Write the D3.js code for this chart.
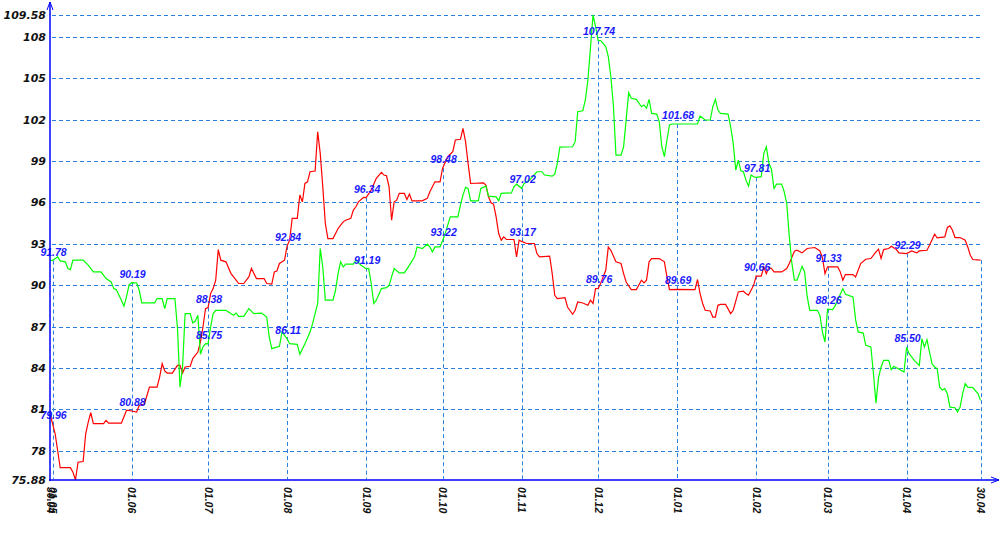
<!DOCTYPE html>
<html><head><meta charset="utf-8">
<script src="https://cdn.jsdelivr.net/npm/d3@7"></script>
<style>body{margin:0;background:#fff}svg{display:block}</style>
</head><body><svg id="c" width="1000" height="550"></svg>
<script>
// ---------- DATA ----------
const red = [
["30.04.14",80.68],["01.05.14",79.96],["02.05.14",79.25],["03.05.14",78.02],["04.05.14",76.77],["08.05.14",76.77],["09.05.14",76.45],["10.05.14",75.88],["11.05.14",77.17],["13.05.14",77.22],["14.05.14",79.23],["15.05.14",80.07],["16.05.14",80.76],["17.05.14",79.96],["21.05.14",79.96],["22.05.14",80.2],["23.05.14",80.0],["28.05.14",80.0],["30.05.14",80.92],["31.05.14",80.92],
["01.06.14",80.88],["03.06.14",80.8],["04.06.14",81.29],["06.06.14",81.36],["08.06.14",82.61],["11.06.14",82.61],["12.06.14",83.34],["13.06.14",84.31],["14.06.14",83.78],["15.06.14",83.63],["17.06.14",83.63],["19.06.14",84.19],["20.06.14",84.19],["21.06.14",83.63],["22.06.14",84.07],["24.06.14",84.12],["25.06.14",84.68],["27.06.14",85.15],["28.06.14",85.88],["29.06.14",86.97],["30.06.14",88.30],
["01.07.14",88.38],["02.07.14",89.39],["03.07.14",89.75],["04.07.14",90.36],["05.07.14",92.58],["06.07.14",91.81],["08.07.14",91.69],["10.07.14",90.84],["11.07.14",90.6],["12.07.14",90.36],["13.07.14",90.12],["15.07.14",90.12],["17.07.14",90.6],["18.07.14",91.21],["20.07.14",90.48],["23.07.14",90.48],["24.07.14",90.12],["26.07.14",90.07],["27.07.14",90.96],["28.07.14",91.03],["29.07.14",91.57],["31.07.14",91.81],
["01.08.14",92.84],["02.08.14",93.26],["03.08.14",94.84],["05.08.14",94.84],["06.08.14",96.53],["07.08.14",96.04],["08.08.14",97.37],["09.08.14",97.49],["10.08.14",98.22],["12.08.14",98.27],["13.08.14",101.12],["14.08.14",99.55],["15.08.14",97.13],["16.08.14",94.47],["17.08.14",93.38],["19.08.14",93.38],["21.08.14",94.11],["22.08.14",94.35],["23.08.14",94.59],["24.08.14",94.71],["26.08.14",94.84],["27.08.14",95.44],["28.08.14",95.68],["29.08.14",96.04],["31.08.14",96.36],
["01.09.14",96.34],["03.09.14",96.89],["05.09.14",97.74],["07.09.14",98.17],["08.09.14",97.98],["09.09.14",97.93],["10.09.14",97.13],["11.09.14",94.71],["12.09.14",96.04],["13.09.14",96.16],["14.09.14",96.65],["16.09.14",96.65],["17.09.14",96.21],["18.09.14",96.6],["19.09.14",96.11],["23.09.14",96.11],["25.09.14",96.29],["26.09.14",96.77],["28.09.14",97.49],["30.09.14",97.49],
["01.10.14",98.48],["03.10.14",99.31],["05.10.14",99.67],["06.10.14",100.52],["08.10.14",100.57],["09.10.14",101.37],["10.10.14",100.4],["11.10.14",98.83],["12.10.14",97.37],["17.10.14",97.42],["18.10.14",97.25],["19.10.14",96.4],["20.10.14",95.97],["21.10.14",95.87],["22.10.14",94.95],["23.10.14",93.74],["24.10.14",93.26],["25.10.14",93.5],["26.10.14",93.31],["29.10.14",93.31],["30.10.14",92.05],["31.10.14",93.26],
["01.11.14",93.17],["03.11.14",93.02],["06.11.14",93.02],["07.11.14",92.29],["08.11.14",92.05],["12.11.14",92.1],["13.11.14",90.84],["14.11.14",89.27],["15.11.14",89.03],["18.11.14",89.1],["19.11.14",88.42],["21.11.14",87.89],["22.11.14",88.18],["23.11.14",88.78],["25.11.14",88.71],["27.11.14",88.54],["28.11.14",88.91],["29.11.14",88.67],["30.11.14",89.75],
["01.12.14",89.76],["02.12.14",90.12],["04.12.14",91.08],["05.12.14",92.77],["06.12.14",92.53],["08.12.14",91.69],["10.12.14",91.57],["11.12.14",90.84],["12.12.14",90.23],["14.12.14",89.68],["16.12.14",89.68],["18.12.14",90.36],["19.12.14",90.16],["20.12.14",90.36],["21.12.14",91.69],["22.12.14",91.93],["25.12.14",91.93],["27.12.14",91.69],["28.12.14",90.6],["29.12.14",89.68],
["01.01.15",89.69],["08.01.15",89.68],["09.01.15",90.41],["10.01.15",89.39],["11.01.15",88.67],["12.01.15",88.18],["14.01.15",88.13],["15.01.15",87.69],["16.01.15",87.69],["17.01.15",88.54],["18.01.15",88.61],["20.01.15",88.61],["22.01.15",87.94],["23.01.15",88.18],["25.01.15",89.51],["27.01.15",89.56],["28.01.15",89.39],["29.01.15",89.27],["31.01.15",89.99],
["01.02.15",90.66],["03.02.15",90.65],["04.02.15",91.32],["05.02.15",90.84],["06.02.15",91.28],["07.02.15",91.21],["08.02.15",90.96],["11.02.15",90.96],["13.02.15",91.21],["14.02.15",91.57],["16.02.15",92.46],["17.02.15",92.53],["19.02.15",92.34],["21.02.15",92.66],["24.02.15",92.73],["26.02.15",92.48],["27.02.15",92.0],["28.02.15",90.84],
["01.03.15",91.33],["05.03.15",91.32],["06.03.15",90.96],["07.03.15",90.36],["08.03.15",90.77],["11.03.15",90.77],["12.03.15",90.6],["14.03.15",91.57],["16.03.15",91.88],["18.03.15",91.93],["20.03.15",92.41],["21.03.15",92.61],["22.03.15",91.93],["23.03.15",92.58],["25.03.15",92.66],["26.03.15",92.82],["28.03.15",92.58],["29.03.15",92.34],
["01.04.15",92.29],["03.04.15",92.48],["05.04.15",92.34],["06.04.15",92.48],["09.04.15",92.53],["10.04.15",92.89],["12.04.15",93.69],["13.04.15",93.43],["16.04.15",93.5],["17.04.15",94.18],["18.04.15",94.3],["19.04.15",93.98],["20.04.15",93.45],["22.04.15",93.45],["24.04.15",93.26],["25.04.15",92.77],["26.04.15",92.17],["27.04.15",91.86],["30.04.15",91.81]
];
const green = [
["30.04.14",91.81],["01.05.14",91.78],["03.05.14",92.05],["04.05.14",91.76],["06.05.14",91.69],["07.05.14",91.21],["08.05.14",91.13],["09.05.14",91.81],["13.05.14",91.81],["15.05.14",91.45],["17.05.14",90.96],["20.05.14",90.96],["22.05.14",90.48],["24.05.14",90.23],["25.05.14",89.75],["26.05.14",89.68],["28.05.14",88.91],["29.05.14",88.47],["30.05.14",89.15],["31.05.14",90.0],
["01.06.14",90.19],["03.06.14",90.16],["04.06.14",89.63],["05.06.14",88.71],["10.06.14",88.71],["11.06.14",89.03],["13.06.14",89.03],["14.06.14",88.3],["15.06.14",89.03],["18.06.14",89.03],["19.06.14",86.9],["20.06.14",82.61],["21.06.14",84.07],["22.06.14",87.94],["24.06.14",87.94],["25.06.14",87.26],["26.06.14",87.4],["27.06.14",87.82],["28.06.14",84.99],["29.06.14",85.52],["30.06.14",85.76],
["01.07.14",85.75],["02.07.14",86.97],["03.07.14",87.94],["04.07.14",88.18],["08.07.14",88.18],["11.07.14",87.82],["12.07.14",87.98],["13.07.14",87.74],["15.07.14",87.74],["17.07.14",88.3],["19.07.14",87.94],["22.07.14",87.98],["24.07.14",87.69],["25.07.14",86.24],["26.07.14",85.4],["29.07.14",85.57],["30.07.14",86.61],
["01.08.14",86.11],["02.08.14",85.76],["05.08.14",85.71],["06.08.14",84.99],["08.08.14",85.76],["10.08.14",86.61],["11.08.14",87.21],["13.08.14",88.67],["14.08.14",92.66],["15.08.14",91.32],["16.08.14",88.91],["19.08.14",88.91],["20.08.14",89.63],["21.08.14",90.84],["22.08.14",91.69],["23.08.14",91.32],["24.08.14",91.52],["27.08.14",91.52],["28.08.14",91.81],["30.08.14",91.45],
["01.09.14",91.19],["02.09.14",91.21],["03.09.14",90.12],["04.09.14",88.67],["05.09.14",88.91],["07.09.14",89.75],["09.09.14",89.82],["10.09.14",89.99],["11.09.14",90.6],["12.09.14",91.21],["14.09.14",90.89],["16.09.14",90.89],["18.09.14",91.45],["20.09.14",92.05],["21.09.14",92.77],["23.09.14",92.65],["25.09.14",92.97],["26.09.14",92.77],["27.09.14",92.41],["28.09.14",92.77],["30.09.14",92.77],
["01.10.14",93.22],["02.10.14",93.74],["04.10.14",94.95],["07.10.14",94.95],["08.10.14",95.8],["09.10.14",96.53],["10.10.14",97.09],["11.10.14",97.01],["12.10.14",96.11],["15.10.14",96.11],["16.10.14",97.01],["18.10.14",97.18],["19.10.14",96.45],["22.10.14",96.4],["23.10.14",96.11],["24.10.14",96.65],["28.10.14",96.69],["29.10.14",97.13],["30.10.14",97.32],
["01.11.14",97.02],["02.11.14",97.37],["04.11.14",97.6],["07.11.14",98.22],["09.11.14",98.22],["10.11.14",97.98],["13.11.14",97.9],["14.11.14",98.05],["15.11.14",98.83],["16.11.14",100.0],["21.11.14",100.03],["22.11.14",100.4],["23.11.14",102.57],["25.11.14",102.64],["26.11.14",103.42],["27.11.14",104.87],["28.11.14",107.2],["29.11.14",109.58],["30.11.14",108.74],
["01.12.14",107.74],["02.12.14",107.72],["04.12.14",107.29],["05.12.14",106.56],["06.12.14",105.11],["07.12.14",103.0],["08.12.14",99.43],["10.12.14",99.43],["11.12.14",100.03],["12.12.14",102.0],["13.12.14",103.95],["14.12.14",103.54],["16.12.14",103.47],["18.12.14",102.93],["19.12.14",103.06],["20.12.14",102.82],["21.12.14",103.47],["22.12.14",102.45],["24.12.14",102.4],["25.12.14",101.84],["26.12.14",100.03],["27.12.14",99.31],["28.12.14",100.52],["29.12.14",101.61],["30.12.14",101.68],
["01.01.15",101.68],["09.01.15",101.68],["10.01.15",102.26],["12.01.15",101.97],["14.01.15",101.97],["15.01.15",102.93],["16.01.15",103.47],["17.01.15",102.69],["18.01.15",102.45],["21.01.15",102.4],["22.01.15",101.48],["23.01.15",100.28],["24.01.15",98.34],["25.01.15",99.07],["26.01.15",98.29],["27.01.15",98.22],["28.01.15",97.61],["29.01.15",97.18],["30.01.15",97.98],["31.01.15",97.86],
["01.02.15",97.81],["03.02.15",97.86],["04.02.15",99.55],["05.02.15",100.03],["06.02.15",98.83],["07.02.15",98.4],["08.02.15",97.01],["09.02.15",97.32],["11.02.15",97.32],["12.02.15",96.77],["13.02.15",95.92],["14.02.15",93.5],["15.02.15",91.6],["16.02.15",90.36],["17.02.15",90.36],["18.02.15",90.84],["19.02.15",91.37],["20.02.15",90.96],["21.02.15",89.2],["22.02.15",88.18],["25.02.15",88.18],["26.02.15",87.82],["27.02.15",86.6],["28.02.15",85.88],
["01.03.15",88.26],["03.03.15",88.23],["04.03.15",88.5],["05.03.15",88.91],["06.03.15",89.34],["07.03.15",89.75],["08.03.15",89.34],["11.03.15",89.15],["12.03.15",87.5],["13.03.15",86.61],["15.03.15",86.53],["16.03.15",85.64],["18.03.15",85.52],["19.03.15",83.6],["20.03.15",81.45],["21.03.15",83.3],["22.03.15",84.07],["23.03.15",84.55],["25.03.15",84.55],["26.03.15",83.88],["27.03.15",84.12],["28.03.15",84.02],["31.03.15",83.7],
["01.04.15",85.5],["02.04.15",85.04],["03.04.15",84.8],["04.04.15",84.55],["06.04.15",84.19],["07.04.15",86.12],["08.04.15",85.52],["09.04.15",86.05],["10.04.15",85.15],["11.04.15",84.3],["12.04.15",84.07],["13.04.15",83.95],["14.04.15",82.61],["15.04.15",82.4],["16.04.15",82.5],["17.04.15",82.14],["18.04.15",81.16],["20.04.15",81.12],["21.04.15",80.8],["22.04.15",81.16],["23.04.15",82.14],["24.04.15",82.86],["25.04.15",82.61],["27.04.15",82.57],["29.04.15",82.14],["30.04.15",81.65]
];
const xTickDates = ["30.04.14","01.05.14","01.06.14","01.07.14","01.08.14","01.09.14","01.10.14","01.11.14","01.12.14","01.01.15","01.02.15","01.03.15","01.04.15","30.04.15"];
const labelDates = ["01.05.14","01.06.14","01.07.14","01.08.14","01.09.14","01.10.14","01.11.14","01.12.14","01.01.15","01.02.15","01.03.15","01.04.15"];
const redLabels   = [79.96, 80.88, 88.38, 92.84, 96.34, 98.48, 93.17, 89.76, 89.69, 90.66, 91.33, 92.29];
const greenLabels = [91.78, 90.19, 85.75, 86.11, 91.19, 93.22, 97.02, 107.74, 101.68, 97.81, 88.26, 85.50];
const yTicks = [75.88, 78, 81, 84, 87, 90, 93, 96, 99, 102, 105, 108, 109.58];
const yTickLabels = ["75.88","78","81","84","87","90","93","96","99","102","105","108","109.58"];

// ---------- CHART ----------
const parse = d3.timeParse("%d.%m.%y");
const fmt = d3.timeFormat("%d.%m");
const svg = d3.select("#c");
const x = d3.scaleTime().domain([parse(xTickDates[0]), parse(xTickDates[xTickDates.length-1])]).range([50, 980.5]);
const y = d3.scaleLinear().domain([yTicks[0], yTicks[yTicks.length-1]]).range([480, 15]);
const gridColor = "#2c7fdc";
const axisColor = "#0000ff";

// horizontal grid
svg.append("g").selectAll("line").data(yTicks.slice(1)).join("line")
  .attr("x1", 52).attr("x2", 980.5)
  .attr("y1", d => Math.round(y(d)) + 0.5).attr("y2", d => Math.round(y(d)) + 0.5)
  .attr("stroke", gridColor).attr("stroke-width", 1).attr("stroke-dasharray", "4,3");

// vertical grid lines from the higher labelled value down to axis
const vData = labelDates.map((d, i) => ({date: parse(d), top: Math.max(redLabels[i], greenLabels[i])}));
vData.push({date: parse(xTickDates[xTickDates.length-1]), top: Math.max(red[red.length-1][1], green[green.length-1][1])});
svg.append("g").selectAll("line").data(vData).join("line")
  .attr("x1", d => Math.round(x(d.date)) + 0.5).attr("x2", d => Math.round(x(d.date)) + 0.5)
  .attr("y1", d => y(d.top)).attr("y2", 479)
  .attr("stroke", gridColor).attr("stroke-width", 1).attr("stroke-dasharray", "4,3");

// series lines
const line = d3.line().x(d => x(parse(d[0]))).y(d => y(d[1]));
svg.append("path").datum(red).attr("d", line).attr("fill", "none").attr("stroke", "#ff0000").attr("stroke-width", 1.2);
svg.append("path").datum(green).attr("d", line).attr("fill", "none").attr("stroke", "#00ff00").attr("stroke-width", 1.2);

// value labels
const lblFont = "'Liberation Sans', Arial, sans-serif";
function addLabels(vals) {
  svg.append("g").selectAll("text").data(labelDates).join("text")
    .attr("x", (d) => x(parse(d)) + 1)
    .attr("y", (d, i) => y(vals[i]) - 5)
    .attr("text-anchor", "middle")
    .attr("font-family", lblFont).attr("font-size", "10.5px")
    .attr("font-weight", "bold").attr("font-style", "italic")
    .attr("fill", "#1a1aff")
    .text((d, i) => vals[i].toFixed(2));
}
addLabels(greenLabels);
addLabels(redLabels);

// y axis labels
const yAxis = d3.axisLeft(y).tickValues(yTicks).tickFormat((d, i) => yTickLabels[i]).tickSize(0).tickPadding(4);
const gy = svg.append("g").attr("transform", "translate(50,0)").call(yAxis);
gy.select(".domain").remove();
gy.selectAll("text").attr("font-family", "'DejaVu Sans', Verdana, sans-serif").attr("font-size", "11px")
  .attr("font-weight", "bold").attr("font-style", "italic").attr("fill", "#111");

// x axis labels
const xAxis = d3.axisBottom(x).tickValues(xTickDates.map(parse)).tickFormat(fmt).tickSize(0).tickPadding(0);
const gx = svg.append("g").attr("transform", "translate(0,480)").call(xAxis);
gx.select(".domain").remove();
gx.selectAll("text")
  .attr("font-family", lblFont).attr("font-size", "10.5px")
  .attr("font-weight", "bold").attr("font-style", "italic").attr("fill", "#111")
  .attr("text-anchor", "start").attr("dy", null)
  .attr("transform", "translate(0,7) rotate(90)")
  .attr("x", 0).attr("y", 0).attr("dominant-baseline", "central");

// axes lines with arrows
svg.append("line").attr("x1", 50).attr("x2", 50).attr("y1", 481).attr("y2", 2).attr("stroke", axisColor).attr("stroke-width", 1.5);
svg.append("polyline").attr("points", "47,10 50,2 53,10").attr("fill", "none").attr("stroke", axisColor).attr("stroke-width", 1);
svg.append("line").attr("x1", 49).attr("x2", 999).attr("y1", 480).attr("y2", 480).attr("stroke", axisColor).attr("stroke-width", 1.5);
svg.append("polyline").attr("points", "991,477 999,480 991,483").attr("fill", "none").attr("stroke", axisColor).attr("stroke-width", 1);
</script></body></html>
